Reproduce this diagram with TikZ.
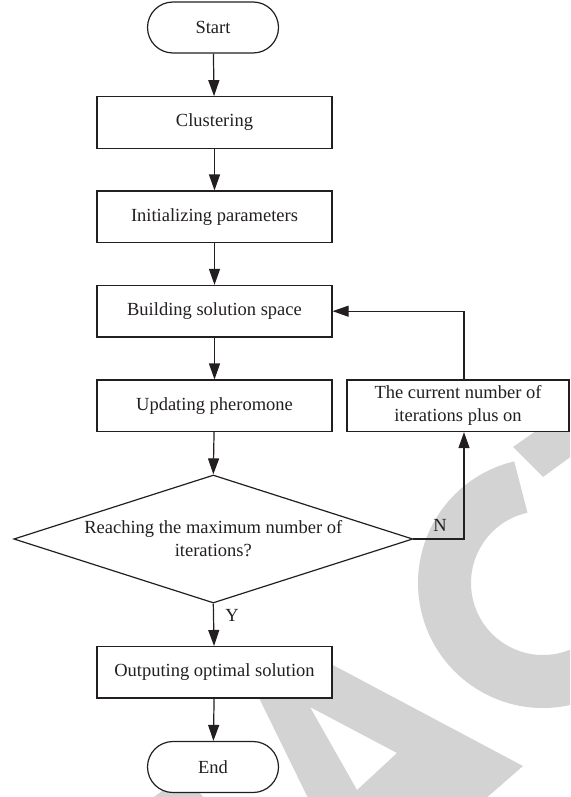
\documentclass[tikz,border=0pt]{standalone}
\usepackage{fontspec}
\setmainfont{Liberation Serif}
\usetikzlibrary{arrows.meta,shapes.geometric}
\definecolor{ln}{RGB}{35,31,32}
\definecolor{wm}{RGB}{211,211,211}
\begin{document}
\begin{tikzpicture}[x=1pt,y=-1pt,font=\fontsize{18.5}{23}\selectfont]
\tikzset{
  box/.style={draw=ln, fill=white, line width=1.2pt, minimum width=235pt, minimum height=51.5pt, inner sep=0pt, text=ln},
  term/.style={draw=ln, fill=white, line width=1.2pt, rounded corners=25.5pt, minimum width=131pt, minimum height=51pt, inner sep=0pt, text=ln},
  arr/.style={draw=ln, line width=1.2pt, -{Triangle[length=16pt,width=11pt]}},
  lbl/.style={text=ln, inner sep=0pt}
}
\useasboundingbox (0,0) rectangle (570,797);
% watermark
\begin{scope}
  \clip (0,0) rectangle (570,797);
  \draw[wm, line width=53pt] (543,583) ++(-103:98.5) arc[start angle=-103, end angle=-335, radius=98.5];
  \fill[wm, even odd rule] (238,655) -- (314,655) -- (523,766) -- (484,800) -- (309,800) -- cycle
        (310,707) -- (397,753) -- (357,790) -- cycle;
  \fill[wm] (513,447) -- (580,400) -- (580,450) -- (543,477) -- cycle;
  \fill[wm] (150,800) -- (162,791) -- (198,791) -- (206,800) -- cycle;
\end{scope}
% nodes
\node[term] (start) at (213,27.5) {Start};
\node[box] (clust) at (214.5,122.5) {Clustering};
\node[box] (init) at (214.5,216.8) {Initializing parameters};
\node[box] (build) at (214.5,311.2) {Building solution space};
\node[box] (upd) at (214.5,405.8) {Updating pheromone};
\node[box, minimum width=222pt, align=center] (iter) at (458,405.8) {The current number of\\iterations plus on};
\node[diamond, draw=ln, fill=white, line width=1.2pt, minimum width=399pt, minimum height=128pt, inner sep=0pt] (dec) at (213.3,539) {};
\node[lbl, align=center] (dectxt) at (dec.center) {Reaching the maximum number of\\iterations?};
\node[box] (out) at (214.5,672.3) {Outputing optimal solution};
\node[term] (end) at (213,767) {End};
\node[lbl] (ylab) at (232,615) {Y};
\node[lbl] (nlab) at (440,525) {N};
% connectors
\draw[arr] (start) -- (clust);
\draw[arr] (clust) -- (init);
\draw[arr] (init) -- (build);
\draw[arr] (build) -- (upd);
\draw[arr] (upd) -- (dec.north);
\draw[arr] (dec.south) -- (out);
\draw[arr] (out) -- (end);
\draw[arr] (dec.east) -| ([xshift=6pt]iter.south);
\draw[arr] ([xshift=6pt]iter.north) |- (build.east);
\end{tikzpicture}
\end{document}
